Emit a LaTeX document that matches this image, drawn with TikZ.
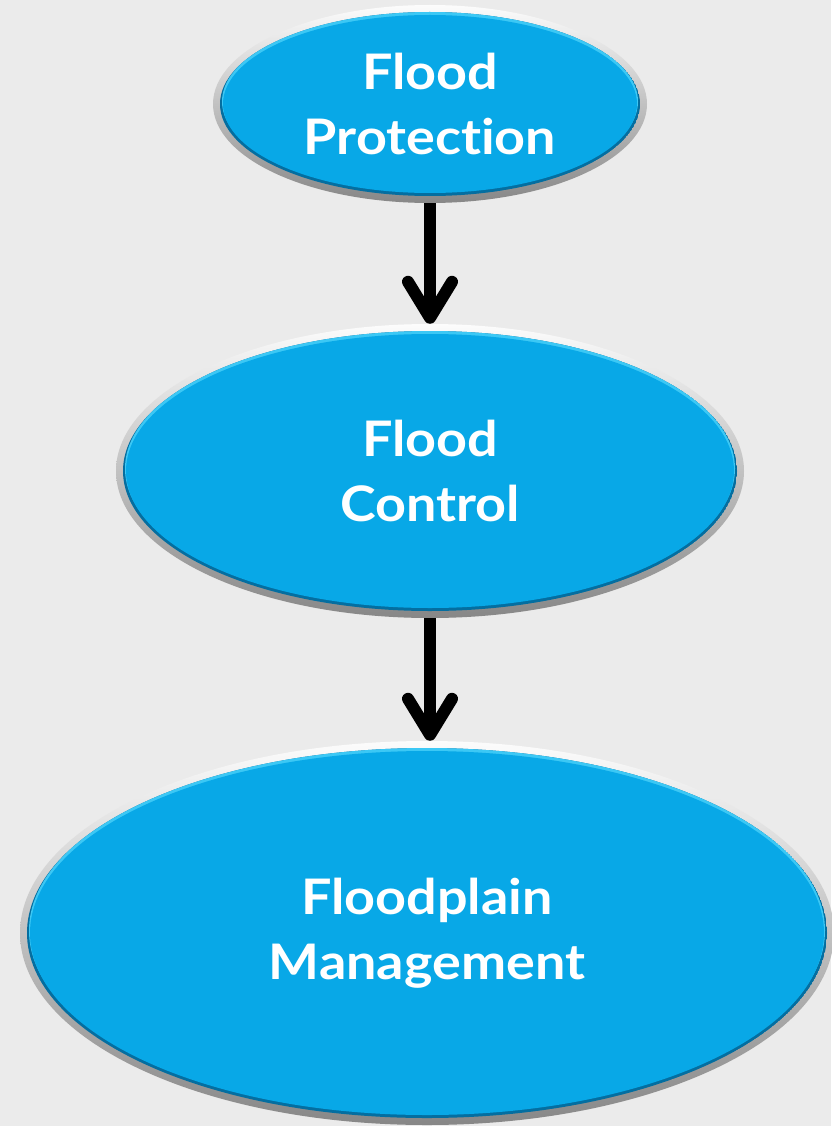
\documentclass[tikz,border=0pt]{standalone}
\usepackage{fontspec}
\setmainfont{Lato}
\newfontfamily\bubblefont{Lato}[UprightFont=* Bold, FakeStretch=1.1, Ligatures={NoCommon}]
\usetikzlibrary{shapes.geometric,arrows.meta}
\definecolor{bgc}{RGB}{235,235,235}
\definecolor{bmain}{RGB}{8,168,231}
\definecolor{blight}{RGB}{60,200,245}
\definecolor{bdark}{RGB}{4,110,160}
\definecolor{ringtop}{RGB}{252,252,252}
\definecolor{ringbot}{RGB}{135,135,135}
\tikzset{
  bubble/.style={ellipse, inner sep=0pt, align=center, text=white,
    font=\bubblefont\fontsize{49}{65}\selectfont},
  flowarrow/.style={line width=12pt, draw=black,
    -{Straight Barb[round,length=36pt,width=44pt]}},
}
\newcommand\mybubble[6]{%
  \shade[top color=ringtop, bottom color=ringbot] (#2,#3) ellipse ({#4} and {#5});
  \begin{scope}
    \clip (#2,#3) ellipse ({#4-7} and {#5-7});
    \fill[bdark] (#2,#3) ellipse ({#4-7} and {#5-7});
    \fill[blight] (#2,#3+2.5) ellipse ({#4-9} and {#5-9});
    \fill[bmain] (#2,#3) ellipse ({#4-10} and {#5-10});
  \end{scope}
  \node[bubble, minimum width={2*#4pt}, minimum height={2*#5pt}] (#1) at (#2,#3) {#6};
}
\begin{document}
\begin{tikzpicture}[x=1pt,y=1pt]
\fill[bgc] (0,0) rectangle (831,-1126);
\useasboundingbox (0,0) rectangle (831,-1126);
\mybubble{prot}{430}{-104}{217}{99}{Flood\\Protection}
\mybubble{ctrl}{430}{-471}{314}{147}{Flood\\Control}
\mybubble{fpm}{427}{-933}{407}{192}{Floodplain\\Management}
\draw[flowarrow] (prot.south) -- (ctrl.north);
\draw[flowarrow] (ctrl.south) -- (ctrl.south |- fpm.north);
\end{tikzpicture}
\end{document}
